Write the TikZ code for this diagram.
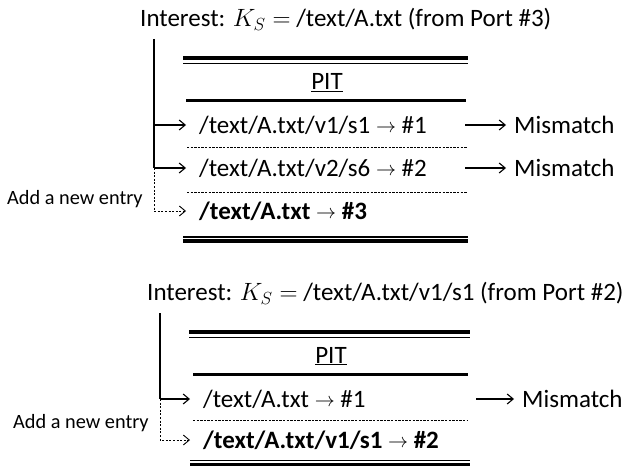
\RequirePackage{fix-cm}
\documentclass[tikz,border=0pt]{standalone}
\usepackage{fontspec}
\setmainfont{Carlito}
\usetikzlibrary{arrows.meta,positioning}

\newcommand{\entryarrow}{\raisebox{1pt}{\fontsize{20}{22}\selectfont$\rightarrow$}}

\tikzset{
  txt/.style={inner sep=0pt, anchor=west, text height=16pt, text depth=0pt, font=\fontsize{25}{30}\selectfont},
  note/.style={inner sep=0pt, anchor=west, text height=13pt, text depth=0pt, font=\fontsize{20.3}{24}\selectfont},
  sepline/.style={line width=0.9pt, dash pattern=on 2.4pt off 1.2pt},
  hook/.style={line width=1.1pt, -{Straight Barb[length=6pt,width=10pt]}},
  newhook/.style={line width=0.9pt, dash pattern=on 2pt off 1.6pt, -{Straight Barb[length=6pt,width=10pt]}}
}

\begin{document}
\begin{tikzpicture}[x=1pt,y=-1pt]
  \useasboundingbox (0,0) rectangle (642,468);

  % first interest
  \node[txt] (t1) at (140,19) {Interest: $K_S=$ /text/A.txt (from Port \#3)};
  \coordinate (v1) at (154,39);
  \draw[line width=4pt] (183,58) -- (468,58);
  \draw[line width=1.2pt] (183,63.3) -- (468,63.3);
  \node[txt, anchor=center] (pit1) at (327,82) {\underline{PIT}};
  \draw[line width=3pt] (186,100.5) -- (466,100.5);
  \node[txt] (e11) at (199,125) {/text/A.txt/v1/s1 \entryarrow{} \#1};
  \draw[sepline] (187,147) -- (467,147);
  \node[txt] (e12) at (199,168) {/text/A.txt/v2/s6 \entryarrow{} \#2};
  \draw[sepline] (187,192) -- (467,192);
  \node[txt, font=\fontsize{25}{30}\selectfont\bfseries] (e13) at (199,211) {/text/A.txt \entryarrow{} \#3};
  \draw[line width=1.2pt] (183,237) -- (468,237);
  \draw[line width=3.5pt] (183,241) -- (468,241);
  \node[txt] (m11) at (514,125) {Mismatch};
  \node[txt] (m12) at (514,168) {Mismatch};
  \coordinate (a11) at (465,125);
  \coordinate (a12) at (465,168);
  \node[note] (n1) at (7,198) {Add a new entry};

  \draw[line width=1.3pt] (v1) -- (v1 |- e12);
  \draw[hook, shorten >=13pt] (v1 |- e11) -- (e11);
  \draw[hook, shorten >=13pt] (v1 |- e12) -- (e12);
  \draw[newhook, shorten >=13pt] (v1 |- e12) |- (e13);
  \draw[hook, shorten >=8pt] (a11) -- (m11);
  \draw[hook, shorten >=8pt] (a12) -- (m12);

  % second interest
  \node[txt] (t2) at (147,292.5) {Interest: $K_S=$ /text/A.txt/v1/s1 (from Port \#2)};
  \coordinate (v2) at (160,313);
  \draw[line width=4pt] (189,332) -- (470,332);
  \draw[line width=1.2pt] (189,337.3) -- (470,337.3);
  \node[txt, anchor=center] (pit2) at (331,355) {\underline{PIT}};
  \draw[line width=3pt] (193,374.5) -- (468,374.5);
  \node[txt] (e21) at (203,399) {/text/A.txt \entryarrow{} \#1};
  \draw[sepline] (193,420) -- (468,420);
  \node[txt, font=\fontsize{25}{30}\selectfont\bfseries] (e22) at (203,440) {/text/A.txt/v1/s1 \entryarrow{} \#2};
  \draw[line width=1.2pt] (190,460.5) -- (470,460.5);
  \draw[line width=3.5pt] (190,464.5) -- (470,464.5);
  \node[txt] (m21) at (522,399) {Mismatch};
  \coordinate (a21) at (476,399);
  \node[note] (n2) at (13,422) {Add a new entry};

  \draw[line width=1.3pt] (v2) -- (v2 |- e21);
  \draw[hook, shorten >=13pt] (v2 |- e21) -- (e21);
  \draw[newhook, shorten >=13pt] (v2 |- e21) |- (e22);
  \draw[hook, shorten >=8pt] (a21) -- (m21);
\end{tikzpicture}
\end{document}
